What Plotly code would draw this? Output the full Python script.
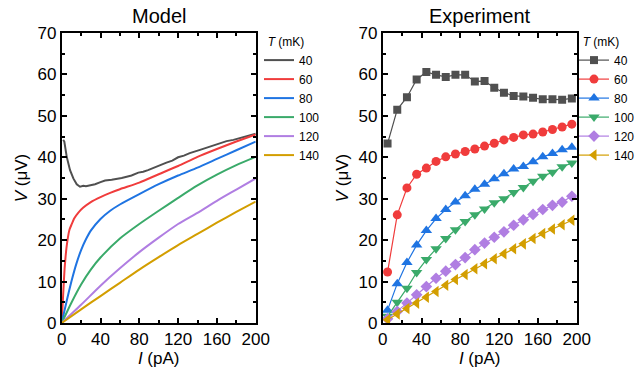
import plotly.graph_objects as go

FONT = "Liberation Sans, Arial, sans-serif"

T_labels = ["40", "60", "80", "100", "120", "140"]
colors = ["#505050", "#F03C3C", "#1F74E2", "#3AAA6A", "#B07EE2", "#D39E00"]
exp_symbols = ["square", "circle", "triangle-up", "triangle-down", "diamond", "triangle-left"]

# ---- Model curves (I in pA, V in uV) ----
model_I_40 = [1.5, 2.7, 5.2, 8.6, 12, 15.5, 18.9, 22.3, 25, 27.5, 31, 34.4, 40, 44.7, 51.5, 56,
              61.9, 67, 72, 79, 84, 89, 95, 101.4, 108, 114, 120, 126, 132, 142.6, 150, 160,
              170, 177, 185, 192, 200]
model_V_40 = [44.2, 43.8, 40.1, 36.9, 34.9, 33.5, 32.9, 33.1, 33.0, 33.1, 33.3, 33.5, 34.0, 34.4,
              34.6, 34.7, 35.0, 35.3, 35.6, 36.3, 36.5, 36.9, 37.5, 38.1, 38.7, 39.2, 40.0, 40.4,
              41.0, 41.8, 42.4, 43.2, 43.9, 44.2, 44.7, 45.1, 45.7]

model_I_60 = [0, 1, 2, 3, 4, 5, 6.5, 8, 10, 13, 17, 22, 30, 40, 50, 60, 80, 100, 120, 140, 160, 180, 200]
model_V_60 = [0, 4.5, 9.0, 13.2, 16.0, 18.3, 20.8, 22.5, 23.7, 25.3, 26.6, 27.8, 29.2, 30.4, 31.4,
              32.3, 33.9, 35.9, 37.9, 40.1, 42.0, 43.8, 45.5]

model_I_80 = [0, 5, 10, 15, 20, 25, 30, 40, 50, 60, 80, 100, 120, 140, 160, 180, 200]
model_V_80 = [0, 5.2, 10.0, 14.2, 17.6, 20.2, 22.3, 25.1, 27.1, 28.6, 31.1, 33.5, 35.6, 37.5,
              39.6, 41.7, 43.8]

model_I_100 = [0, 10, 20, 30, 40, 60, 80, 100, 120, 140, 160, 180, 200]
model_V_100 = [0, 4.9, 9.3, 12.9, 15.8, 20.4, 23.9, 27.1, 30.2, 33.2, 35.8, 38.1, 40.1]

model_I_120 = [0, 20, 40, 60, 80, 100, 120, 140, 160, 180, 200]
model_V_120 = [0, 4.4, 9.0, 13.2, 17.1, 20.6, 23.9, 26.6, 29.5, 32.2, 34.9]

model_I_140 = [0, 20, 40, 60, 80, 100, 120, 140, 160, 180, 200]
model_V_140 = [0, 3.3, 6.5, 9.7, 12.9, 15.9, 18.8, 21.5, 24.2, 26.8, 29.3]

# ---- Experiment ----
exp_I = [5, 15, 25, 35, 45, 55, 65, 75, 85, 95, 105, 115, 125, 135, 145, 155, 165, 175, 185, 195]
exp_V_40 = [43.3, 51.5, 54.5, 58.8, 60.6, 59.9, 59.4, 59.9, 59.9, 58.3, 58.4, 56.8, 55.6, 54.8,
            54.7, 54.4, 54.0, 54.0, 53.9, 54.2]
exp_V_60 = [12.3, 26.1, 32.6, 35.9, 37.4, 39.0, 40.1, 40.8, 41.4, 42.0, 42.7, 43.4, 44.2, 44.8,
            45.4, 45.6, 46.1, 46.7, 47.3, 48.0]
exp_V_80 = [3.1, 9.5, 14.6, 18.8, 22.3, 25.2, 27.4, 29.2, 30.7, 32.3, 33.5, 34.8, 36.0, 37.2,
            37.8, 38.9, 40.1, 40.9, 41.8, 42.4]
exp_V_100 = [1.6, 5.0, 8.4, 12.2, 15.3, 17.9, 20.4, 22.5, 24.5, 26.1, 27.5, 29.0, 30.0, 31.5,
             32.7, 34.2, 35.4, 36.4, 37.7, 38.6]
exp_V_120 = [1.0, 2.8, 4.8, 6.8, 8.8, 10.8, 12.5, 14.1, 15.8, 17.7, 19.3, 20.7, 22.0, 23.6,
             24.9, 26.2, 27.4, 28.4, 29.2, 30.6]
exp_V_140 = [0.8, 2.2, 3.5, 4.8, 6.2, 7.6, 9.1, 10.5, 11.7, 13.1, 14.3, 15.5, 16.7, 17.9,
             19.1, 20.4, 21.6, 22.7, 23.7, 24.8]

model_I = [model_I_40, model_I_60, model_I_80, model_I_100, model_I_120, model_I_140]
model_V = [model_V_40, model_V_60, model_V_80, model_V_100, model_V_120, model_V_140]
exp_V = [exp_V_40, exp_V_60, exp_V_80, exp_V_100, exp_V_120, exp_V_140]
marker_sizes = [8, 9, 10, 10, 9, 10]

fig = go.Figure()

for k in range(6):
    fig.add_trace(go.Scatter(
        x=model_I[k], y=model_V[k], mode="lines", name=T_labels[k],
        line=dict(color=colors[k], width=2, shape="spline" if k > 0 else "linear", smoothing=0.6),
        xaxis="x", yaxis="y", legend="legend", cliponaxis=True))

for k in range(6):
    fig.add_trace(go.Scatter(
        x=exp_I, y=exp_V[k], mode="lines+markers", name=T_labels[k],
        line=dict(color=colors[k], width=1.2),
        marker=dict(symbol=exp_symbols[k], size=marker_sizes[k], color=colors[k],
                    line=dict(width=0)),
        xaxis="x2", yaxis="y2", legend="legend2", cliponaxis=True))

W, H = 636, 374

def px(x):
    return x / W

def py(y):
    return 1 - y / H

dom_y = [py(323), py(33)]

def xax(domain, anchor):
    return dict(domain=domain, anchor=anchor, range=[0, 200], tickvals=[0, 40, 80, 120, 160, 200],
                ticks="inside", ticklen=5, tickwidth=1.5, tickcolor="black",
                minor=dict(dtick=20, tick0=0, ticks="inside", ticklen=3, tickwidth=1.5, tickcolor="black"),
                showline=True, linewidth=1.8, linecolor="black", mirror="ticks",
                showgrid=False, zeroline=False, automargin=False,
                tickfont=dict(family=FONT, size=17, color="black"),
                title=dict(text="<i>I</i> (pA)", font=dict(family=FONT, size=17, color="black"), standoff=4))

def yax(domain, anchor):
    return dict(domain=domain, anchor=anchor, range=[0, 70], dtick=10, tick0=0,
                ticks="inside", ticklen=5, tickwidth=1.5, tickcolor="black",
                minor=dict(dtick=5, tick0=0, ticks="inside", ticklen=3, tickwidth=1.5, tickcolor="black"),
                showline=True, linewidth=1.8, linecolor="black", mirror="ticks",
                showgrid=False, zeroline=False, automargin=False,
                tickfont=dict(family=FONT, size=17, color="black"),
                title=dict(text="<i>V</i> (μV)", font=dict(family=FONT, size=17, color="black"), standoff=6))

leg_common = dict(xanchor="left", yanchor="top", bgcolor="rgba(0,0,0,0)",
                  font=dict(family=FONT, size=12, color="black"),
                  title=dict(text="&nbsp;&nbsp;<i>T</i> (mK)", font=dict(family=FONT, size=12, color="black")),
                  tracegroupgap=0, borderwidth=0)

fig.update_layout(
    template="none",
    width=W, height=H, margin=dict(l=0, r=0, t=0, b=0, autoexpand=False),
    paper_bgcolor="white", plot_bgcolor="white",
    font=dict(family=FONT, color="black"),
    xaxis=xax([px(61.7), px(255.7)], "y"),
    yaxis=yax(dom_y, "x"),
    xaxis2=xax([px(382.7), px(576.7)], "y2"),
    yaxis2=yax(dom_y, "x2"),
    legend=dict(x=px(259), y=py(30), **leg_common),
    legend2=dict(x=px(574), y=py(30), **leg_common),
    annotations=[
        dict(text="Model", x=px(158.7), y=py(16.5), xref="paper", yref="paper",
             xanchor="center", yanchor="middle", showarrow=False,
             font=dict(family=FONT, size=20, color="black")),
        dict(text="Experiment", x=px(479.7), y=py(16.5), xref="paper", yref="paper",
             xanchor="center", yanchor="middle", showarrow=False,
             font=dict(family=FONT, size=20, color="black")),
    ],
    showlegend=True,
)

fig.write_html("out.html",
               config={"displayModeBar": False},
               post_script="document.body.style.margin='0px';document.body.style.overflow='hidden';")
